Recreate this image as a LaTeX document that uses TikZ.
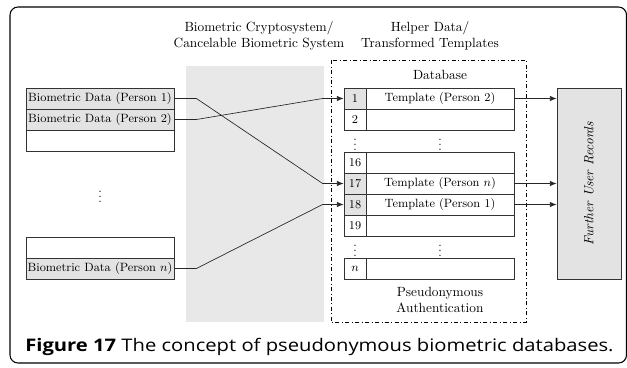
\documentclass[tikz,border=0pt]{standalone}
\usepackage{fontspec}
\newfontfamily\capfont{Open Sans}
\usetikzlibrary{arrows.meta}
\definecolor{bandgray}{HTML}{E8E8E8}
\definecolor{cellgray}{HTML}{E3E3E3}
\tikzset{
  cell/.style={draw=black!80, line width=0.6pt, minimum height=15.75pt, inner sep=0pt, font=\small},
  datacell/.style={cell, minimum width=111pt},
  numcell/.style={cell, minimum width=16.5pt},
  tplcell/.style={cell, minimum width=111pt},
  vdotsnode/.style={inner sep=0pt, font=\small},
  conn/.style={draw=black!85, line width=0.5pt, -{Latex[length=5pt,width=4pt]}},
}

\begin{document}
\begin{tikzpicture}[x=0.75pt,y=-0.75pt]
    \useasboundingbox (0,0) rectangle (627,367);

    % outer frame
    \draw[rounded corners=6pt, line width=0.8pt] (10,7) rectangle (626.5,363);

    % cryptosystem band
    \fill[bandgray] (186,66) rectangle (324,322);
    \node[align=center] (cbs) at (259,36) {Biometric Cryptosystem/\\Cancelable Biometric System};

    % helper data
    \node[align=center] (hd) at (430,36) {Helper Data/\\Transformed Templates};

    %%%%%%%%%%%%%%%%%%%%%%%%%%%%%%%%%%%%%%%%%%%%%%%%%%%%%%

    % biometric data of the persons
    \node[datacell, fill=cellgray] (bd1) at (100,98.5) {Biometric Data (Person 1)};
    \node[datacell, fill=cellgray] (bd2) at (100,119.5) {Biometric Data (Person 2)};
    \node[datacell] (bd3) at (100,140.5) {};
    \node[vdotsnode] (ldots) at (100,193) {$\vdots$};
    \node[datacell] (bd4) at (100,247.5) {};
    \node[datacell, fill=cellgray] (bdn) at (100,268.5) {Biometric Data (Person $n$)};

    %%%%%%%%%%%%%%%%%%%%%%%%%%%%%%%%%%%%%%%%%%%%%%%%%%%%%%

    % database
    \draw[dash dot, line width=0.5pt] (331,60) rectangle (526,322);
    \node (db) at (440,75) {Database};

    % stored templates
    \node[numcell, fill=cellgray] (n1) at (355,98.5) {1};
    \node[tplcell] (t1) at (440,98.5) {Template (Person 2)};
    \node[numcell] (n2) at (355,119.5) {2};
    \node[tplcell] (t2) at (440,119.5) {};
    \node[vdotsnode] (ndots1) at (355,141) {$\vdots$};
    \node[vdotsnode] (tdots1) at (440,141) {$\vdots$};
    \node[numcell] (n16) at (355,162.5) {16};
    \node[tplcell] (t16) at (440,162.5) {};
    \node[numcell, fill=cellgray] (n17) at (355,183.5) {17};
    \node[tplcell] (t17) at (440,183.5) {Template (Person $n$)};
    \node[numcell, fill=cellgray] (n18) at (355,204.5) {18};
    \node[tplcell] (t18) at (440,204.5) {Template (Person 1)};
    \node[numcell] (n19) at (355,225.5) {19};
    \node[tplcell] (t19) at (440,225.5) {};
    \node[vdotsnode] (ndots2) at (355,247) {$\vdots$};
    \node[vdotsnode] (tdots2) at (440,247) {$\vdots$};
    \node[numcell] (nn) at (355,268.5) {$n$};
    \node[tplcell] (tn) at (440,268.5) {};

    % pseudonymous authentication
    \node[align=center] (pa) at (440,299.5) {Pseudonymous\\Authentication};

    %%%%%%%%%%%%%%%%%%%%%%%%%%%%%%%%%%%%%%%%%%%%%%%%%%%%%%

    % further user records
    \node[draw=black!80, fill=cellgray, line width=0.6pt, minimum width=48pt, minimum height=143.25pt, inner sep=0pt] (rec) at (589,183.5) {};
    \node[rotate=90, font=\itshape] (rectxt) at (rec.center) {Further User Records};

    % enrolment into the database
    \draw[conn] (bd2.east) -- ++(22,0) -- ([xshift=-15.75pt]n1.west) -- (n1.west);
    \draw[conn] (bd1.east) -- ++(22,0) -- ([xshift=-15.75pt]n17.west) -- (n17.west);
    \draw[conn] (bdn.east) -- ++(22,0) -- ([xshift=-15.75pt]n18.west) -- (n18.west);

    % links to the records
    \draw[conn] (t1.east) -- (t1.east -| rec.west);
    \draw[conn] (t17.east) -- (t17.east -| rec.west);
    \draw[conn] (t18.east) -- (t18.east -| rec.west);

    % caption
    \node[anchor=base west, inner sep=0pt, xscale=1.165, font=\capfont\fontsize{13}{15}\selectfont] (cap) at (25,351) {\textbf{Figure 17} The concept of pseudonymous biometric databases.};

\end{tikzpicture}
\end{document}
